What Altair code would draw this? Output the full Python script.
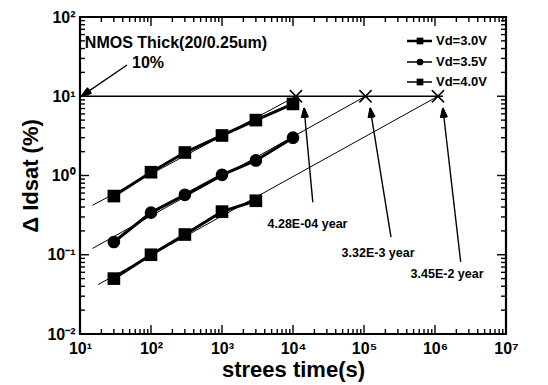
import math
import altair as alt
import pandas as pd

# ---------------- data ----------------
series = ["Vd=3.0V", "Vd=3.5V", "Vd=4.0V"]
times_30 = [30, 100, 300, 1000, 3000, 10000]
vals_30 = [0.55, 1.1, 1.95, 3.2, 5.0, 8.0]
times_35 = [30, 100, 300, 1000, 3000, 10000]
vals_35 = [0.145, 0.34, 0.57, 1.02, 1.55, 3.0]
times_40 = [30, 100, 300, 1000, 3000]
vals_40 = [0.05, 0.1, 0.18, 0.35, 0.48]

fit_start_t = [15, 15, 18]
fit_start_v = [0.42, 0.12, 0.042]
cross_t = [1.1e4, 1.05e5, 1.1e6]
threshold = 10
hline_t = [10, 1.3e6]

x_ticks = [10, 100, 1e3, 1e4, 1e5, 1e6, 1e7]
y_ticks = [0.01, 0.1, 1, 10, 100]

title_text = "NMOS Thick(20/0.25um)"
title_pos = (11.7, 47)
pct_text = "10%"
pct_pos = (91, 26.3)
pct_arrow_tail = (46, 24.8)
pct_arrow_head = (10.6, 10.1)

life_labels = ["4.28E-04 year", "3.32E-3 year", "3.45E-2 year"]
life_label_t = [1.6e4, 1.58e5, 1.48e6]
life_label_v = [0.244, 0.105, 0.057]
life_tail_t = [1.9e4, 2.4e5, 2.3e6]
life_tail_v = [0.46, 0.167, 0.081]
life_head_t = [1.43e4, 1.22e5, 1.29e6]
life_head_v = [7.1, 7.1, 7.1]

# ---------------- layout ----------------
W, H = 426, 317
FONT = "Liberation Sans"


def px(t):
    return (math.log10(t) - 1) / 6 * W


def py(v):
    return (2 - math.log10(v)) / 4 * H


def inv_x(x):
    return 10 ** (1 + 6 * x / W)


def inv_y(y):
    return 10 ** (2 - 4 * y / H)


xs = alt.Scale(type="log", domain=[10, 1e7], nice=False)
ys = alt.Scale(type="log", domain=[0.01, 100], nice=False)

sup = "['⁰','¹','²','³','⁴','⁵','⁶','⁷','⁸','⁹']"
lab_expr = ("'10' + (round(log(datum.value)/LN10) < 0 ? '⁻' : '') + "
            + sup + "[abs(round(log(datum.value)/LN10))]")

x_axis = alt.Axis(values=x_ticks, labelExpr=lab_expr, ticks=False, domain=False, grid=False,
                  labelFont=FONT, labelFontSize=16, labelFontWeight="bold", labelColor="black",
                  labelPadding=6, title="strees time(s)", titleFont=FONT, titleFontSize=22,
                  titleFontWeight="bold", titleColor="black", titlePadding=3, labelFlush=False)
y_axis = alt.Axis(values=y_ticks, labelExpr=lab_expr, ticks=False, domain=False, grid=False,
                  labelFont=FONT, labelFontSize=16, labelFontWeight="bold", labelColor="black",
                  labelPadding=5, title="Δ Idsat (%)", titleFont=FONT, titleFontSize=22,
                  titleFontWeight="bold", titleColor="black", titlePadding=4, labelFlush=False)


def X(f="t"):
    return alt.X(f"{f}:Q", scale=xs, axis=x_axis)


def Y(f="v"):
    return alt.Y(f"{f}:Q", scale=ys, axis=y_axis)


# ---------------- tables ----------------
rows = []
for s, ts, vs in [(series[0], times_30, vals_30), (series[1], times_35, vals_35), (series[2], times_40, vals_40)]:
    for t, v in zip(ts, vs):
        rows.append({"s": s, "t": t, "v": v})
df = pd.DataFrame(rows)

fit_rows = []
for s, t0, v0, tc in zip(series, fit_start_t, fit_start_v, cross_t):
    fit_rows.append({"s": s, "t": t0, "v": v0})
    fit_rows.append({"s": s, "t": tc, "v": threshold})
df_fit = pd.DataFrame(fit_rows)

df_cross = pd.DataFrame({"t": cross_t, "v": [threshold] * 3})
df_h = pd.DataFrame({"t": [hline_t[0]], "t2": [hline_t[1]], "v": [threshold]})

arrows = [(pct_arrow_tail, pct_arrow_head)] + [((a, b), (c, d)) for a, b, c, d in
                                                 zip(life_tail_t, life_tail_v, life_head_t, life_head_v)]

seg = []  # segments drawn as rules: arrow shafts, arrow heads, frame ticks
for (t0, v0), (t1, v1) in arrows:
    seg.append({"t": t0, "v": v0, "t2": t1, "v2": v1})
    hx, hy = px(t1), py(v1)
    tx, ty = px(t0), py(v0)
    L = math.hypot(tx - hx, ty - hy)
    ux, uy = (tx - hx) / L, (ty - hy) / L
    for k in range(-5, 6):
        a = math.radians(k * 4)
        rx = ux * math.cos(a) - uy * math.sin(a)
        ry = ux * math.sin(a) + uy * math.cos(a)
        seg.append({"t": t1, "v": v1, "t2": inv_x(hx + 10 * rx), "v2": inv_y(hy + 10 * ry)})

x_minor = [k * 10 ** n for n in range(1, 7) for k in range(2, 10)]
y_minor = [k * 10.0 ** n for n in range(-2, 2) for k in range(2, 10)]
for vals, ln in [(x_ticks, 9), (x_minor, 5)]:
    for t in vals:
        seg.append({"t": t, "v": 0.01, "t2": t, "v2": inv_y(H - ln)})
        seg.append({"t": t, "v": 100, "t2": t, "v2": inv_y(ln)})
for vals, ln in [(y_ticks, 9), (y_minor, 5)]:
    for v in vals:
        seg.append({"t": 10, "v": v, "t2": inv_x(ln), "v2": v})
        seg.append({"t": 1e7, "v": v, "t2": inv_x(W - ln), "v2": v})
df_seg = pd.DataFrame(seg)

df_life = pd.DataFrame({"t": life_label_t, "v": life_label_v, "label": life_labels})
df_title = pd.DataFrame({"t": [title_pos[0]], "v": [title_pos[1]], "label": [title_text]})
df_pct = pd.DataFrame({"t": [pct_pos[0]], "v": [pct_pos[1]], "label": [pct_text]})

# ---------------- layers ----------------
layers = []

# 10% line
layers.append(alt.Chart(df_h).mark_rule(color="black", strokeWidth=1.6).encode(
    x=X(), x2="t2:Q", y=Y()))

# fit lines
layers.append(alt.Chart(df_fit).mark_line(color="black", strokeWidth=1).encode(
    x=X(), y=Y(), detail="s:N"))

# data lines
layers.append(alt.Chart(df).mark_line(color="black", strokeWidth=3).encode(
    x=X(), y=Y(), detail="s:N"))

# markers
sq = df[df.s != series[1]]
ci = df[df.s == series[1]]
layers.append(alt.Chart(sq).mark_point(shape="square", filled=True, color="black", size=160, opacity=1).encode(
    x=X(), y=Y()))
layers.append(alt.Chart(ci).mark_point(shape="circle", filled=True, color="black", size=160, opacity=1).encode(
    x=X(), y=Y()))

# crosses
layers.append(alt.Chart(df_cross).mark_point(shape="M-1,-1L1,1M-1,1L1,-1", filled=False, color="black",
                                             size=150, strokeWidth=1.5, opacity=1).encode(x=X(), y=Y()))

# arrows, arrow heads and frame ticks
layers.append(alt.Chart(df_seg).mark_rule(color="black", strokeWidth=1.4).encode(
    x=X(), y=Y(), x2="t2:Q", y2="v2:Q"))

# texts
layers.append(alt.Chart(df_life).mark_text(font=FONT, fontWeight="bold", fontSize=12.5, color="black").encode(
    x=X(), y=Y(), text="label:N"))
layers.append(alt.Chart(df_title).mark_text(font=FONT, fontWeight="bold", fontSize=16, color="black",
                                            align="left").encode(x=X(), y=Y(), text="label:N"))
layers.append(alt.Chart(df_pct).mark_text(font=FONT, fontWeight="bold", fontSize=16, color="black").encode(
    x=X(), y=Y(), text="label:N"))

# legend (manual)
leg_y = [24, 45, 65]
leg_w = [2.5, 1.5, 1.5]
leg_shape = ["square", "circle", "square"]
for lab, yy, w, shp in zip(series, leg_y, leg_w, leg_shape):
    d = pd.DataFrame({"label": [lab]})
    layers.append(alt.Chart(d).mark_rule(color="black", strokeWidth=w).encode(
        x=alt.value(327), x2=alt.value(352), y=alt.value(yy)))
    layers.append(alt.Chart(d).mark_point(shape=shp, filled=True, color="black", size=45, opacity=1).encode(
        x=alt.value(340), y=alt.value(yy)))
    layers.append(alt.Chart(d).mark_text(font=FONT, fontWeight="bold", fontSize=13, color="black",
                                         align="left").encode(x=alt.value(356), y=alt.value(yy), text="label:N"))

chart = alt.layer(*layers).properties(
    width=W, height=H,
    autosize=alt.AutoSizeParams(type="none"),
    padding={"left": 80, "top": 17, "right": 42, "bottom": 51},
    background="white",
).configure_view(stroke="black", strokeWidth=2.2)

chart.save("out.html", embed_options={"renderer": "svg", "actions": False})
